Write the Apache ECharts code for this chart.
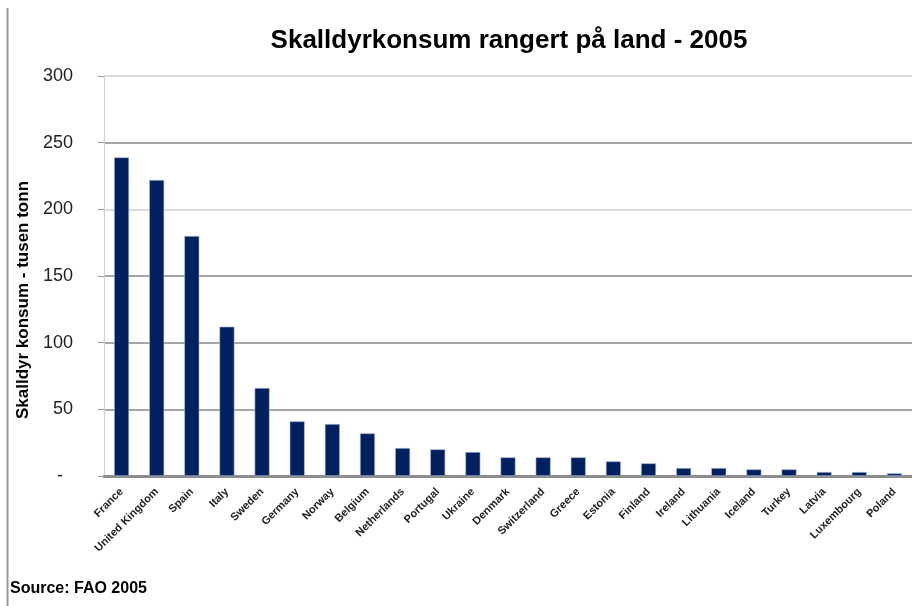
<!DOCTYPE html>
<html>
<head>
<meta charset="utf-8">
<title>Skalldyrkonsum</title>
<script src="https://cdn.jsdelivr.net/npm/echarts@6/dist/echarts.min.js"></script>
<style>
  html, body { margin: 0; padding: 0; background: #fff; }
  #chart { width: 912px; height: 606px; }
</style>
</head>
<body>
<div id="chart"></div>
<script>
  // data (tusen tonn)
  var countries = ['France', 'United Kingdom', 'Spain', 'Italy', 'Sweden', 'Germany', 'Norway',
    'Belgium', 'Netherlands', 'Portugal', 'Ukraine', 'Denmark', 'Switzerland', 'Greece',
    'Estonia', 'Finland', 'Ireland', 'Lithuania', 'Iceland', 'Turkey', 'Latvia', 'Luxembourg', 'Poland'];
  var consumption = [239, 222, 180, 112, 66, 41, 39, 32, 21, 20, 18, 14, 14, 14,
    11, 9.5, 6, 6, 5, 5, 3, 3, 2];
  var yTicks = [0, 50, 100, 150, 200, 250, 300];

  var font = "'Liberation Sans', Arial, sans-serif";

  var myChart = echarts.init(document.getElementById('chart'));
  myChart.setOption({
    animation: false,
    title: [{
      text: 'Skalldyrkonsum rangert på land - 2005',
      left: 504,
      top: 23,
      textAlign: 'center',
      textStyle: { fontFamily: font, fontWeight: 'bold', fontSize: 26, color: '#000' }
    }, {
      text: 'Source: FAO 2005',
      left: 5,
      top: 576,
      textStyle: { fontFamily: font, fontWeight: 'bold', fontSize: 16, color: '#000' }
    }],
    graphic: [{
      type: 'line',
      shape: { x1: 7.5, y1: 8, x2: 7.5, y2: 606 },
      style: { stroke: '#999', lineWidth: 2 }
    }],
    grid: { left: 104, right: -11, top: 76, bottom: 130 },
    xAxis: {
      type: 'category',
      data: countries,
      axisLine: { lineStyle: { color: '#8c8c8c', width: 3 } },
      axisTick: { length: 5, lineStyle: { color: '#aaa' } },
      axisLabel: {
        rotate: 45, interval: 0, margin: 14,
        fontFamily: font,
        fontSize: 11, fontWeight: 'bold', color: '#222'
      }
    },
    yAxis: {
      type: 'value',
      min: yTicks[0], max: yTicks[yTicks.length - 1], interval: 50,
      name: 'Skalldyr konsum - tusen tonn',
      nameLocation: 'middle',
      nameGap: 72,
      nameTextStyle: {
        fontFamily: font, fontWeight: 'bold', fontSize: 17, color: '#000',
        padding: [0, 48, 0, 0]
      },
      axisLine: { show: true, lineStyle: { color: '#d0d0d0', width: 1 } },
      axisTick: { show: true, length: 6, lineStyle: { color: '#999' } },
      axisLabel: {
        margin: 31,
        fontFamily: font,
        fontSize: 18, color: '#222',
        formatter: function (v) { return v === 0 ? '{dash|-}' : v; },
        rich: { dash: { fontSize: 18, color: '#222', padding: [0, 10, 0, 0] } }
      },
      splitLine: {
        lineStyle: {
          color: ['#a6a6a6', '#a6a6a6', '#a6a6a6', '#a6a6a6', '#dcdcdc', '#a6a6a6', '#dcdcdc'],
          width: 2
        }
      }
    },
    series: [{
      type: 'bar',
      data: consumption,
      barWidth: 15,
      itemStyle: { color: '#002060', borderColor: '#b4c0dc', borderWidth: 0.6 }
    }]
  });
</script>
</body>
</html>
